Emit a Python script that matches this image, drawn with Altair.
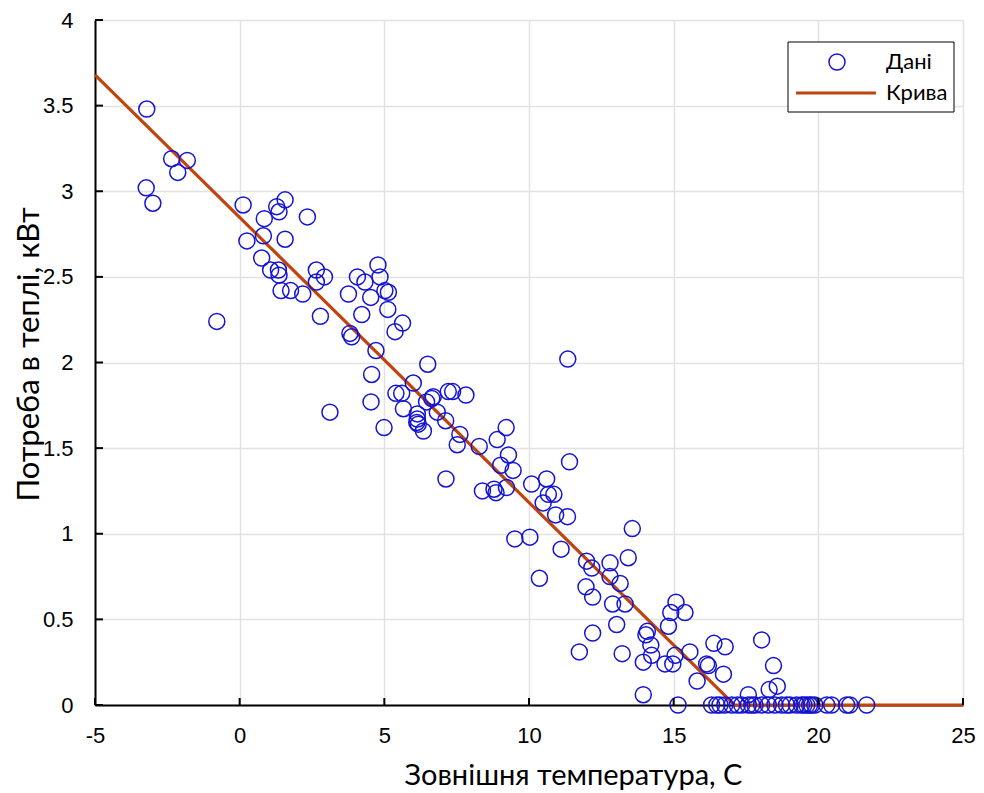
import altair as alt
import pandas as pd

# Measured heat demand vs outdoor temperature
temp = [
    -3.21, -2.35, -1.81, -2.14, -3.23, -3.00, -0.79, 0.12, 1.28, 1.57,
    1.36, 0.85, 2.34, 0.25, 0.82, 1.57, 0.76, 1.07, 1.34, 1.36,
    1.43, 1.76, 2.18, 2.65, 2.65, 2.93, 2.79, 3.12, 3.76, 3.81,
    3.87, 4.07, 4.33, 4.78, 4.85, 4.53, 5.02, 5.14, 5.12, 4.22,
    5.63, 5.37, 4.71, 6.50, 4.56, 4.54, 4.99, 5.40, 5.60, 6.00,
    5.66, 6.14, 6.14, 6.12, 6.17, 6.35, 6.46, 6.64, 6.69, 6.83,
    7.12, 7.21, 7.36, 7.82, 7.61, 7.52, 8.28, 7.13, 9.21, 8.90,
    9.29, 9.02, 9.45, 11.40, 11.34, 8.39, 8.79, 8.86, 9.22, 10.09,
    10.61, 10.67, 10.86, 10.49, 10.92, 11.33, 9.51, 10.03, 11.11, 10.36,
    13.57, 11.99, 12.17, 12.80, 13.43, 12.80, 13.15, 11.97, 12.20, 12.89,
    13.32, 15.08, 14.90, 15.39, 14.82, 13.03, 12.20, 14.09, 14.04, 14.21,
    14.24, 11.74, 13.22, 13.95, 14.70, 14.97, 15.05, 15.56, 16.39, 16.78,
    16.14, 16.20, 16.72, 15.81, 13.95, 18.04, 18.45, 17.58, 18.30, 18.58,
    15.15, 16.31, 16.49, 16.60, 16.77, 17.01, 17.20, 17.35, 17.58, 17.70,
    17.81, 18.04, 18.27, 18.50, 18.73, 18.90, 19.02, 19.25, 19.42, 19.50,
    19.60, 19.70, 19.77, 19.88, 20.29, 20.46, 20.98, 21.09, 21.67,
]
demand = [
    3.48, 3.19, 3.18, 3.11, 3.02, 2.93, 2.24, 2.92, 2.91, 2.95,
    2.88, 2.84, 2.85, 2.71, 2.74, 2.72, 2.61, 2.54, 2.54, 2.51,
    2.42, 2.42, 2.40, 2.54, 2.47, 2.50, 2.27, 1.71, 2.40, 2.17,
    2.15, 2.50, 2.47, 2.57, 2.50, 2.38, 2.42, 2.41, 2.31, 2.28,
    2.23, 2.18, 2.07, 1.99, 1.93, 1.77, 1.62, 1.82, 1.82, 1.88,
    1.73, 1.70, 1.67, 1.65, 1.64, 1.60, 1.77, 1.79, 1.80, 1.71,
    1.66, 1.83, 1.83, 1.81, 1.58, 1.52, 1.51, 1.32, 1.62, 1.55,
    1.46, 1.40, 1.37, 1.42, 2.02, 1.25, 1.26, 1.24, 1.27, 1.29,
    1.32, 1.23, 1.23, 1.18, 1.11, 1.10, 0.97, 0.98, 0.91, 0.74,
    1.03, 0.84, 0.80, 0.83, 0.86, 0.75, 0.71, 0.69, 0.63, 0.59,
    0.59, 0.60, 0.54, 0.54, 0.46, 0.47, 0.42, 0.43, 0.41, 0.35,
    0.29, 0.31, 0.30, 0.25, 0.24, 0.24, 0.29, 0.31, 0.36, 0.34,
    0.24, 0.23, 0.18, 0.14, 0.06, 0.38, 0.23, 0.06, 0.09, 0.11,
    0.0, 0.0, 0.0, 0.0, 0.0, 0.0, 0.0, 0.0, 0.0, 0.0,
    0.0, 0.0, 0.0, 0.0, 0.0, 0.0, 0.0, 0.0, 0.0, 0.0,
    0.0, 0.0, 0.0, 0.0, 0.0, 0.0, 0.0, 0.0, 0.0,
]

# Fitted piecewise-linear curve
curve_t = [-5.0, 17.1, 25.0]
curve_q = [3.68, 0.0, 0.0]

x_ticks = [-5, 0, 5, 10, 15, 20, 25]
y_ticks = [0, 0.5, 1, 1.5, 2, 2.5, 3, 3.5, 4]

legend_labels = ["Дані", "Крива"]

BLUE = "#1414d2"
RED = "#c1440e"
TICK_FONT = "Liberation Sans"
TEXT_FONT = "Lato"

W, H = 868, 685

points_df = pd.DataFrame({"t": temp, "q": demand})
curve_df = pd.DataFrame({"t": curve_t, "q": curve_q})

xscale = alt.Scale(domain=[-5, 25], nice=False, zero=False)
yscale = alt.Scale(domain=[0, 4], nice=False)

common = dict(
    ticks=False, labelFlush=False, labelOverlap=False,
    labelExpr="'' + datum.value",
    labelFont=TICK_FONT, labelFontSize=22, labelColor="black",
    titleFont=TEXT_FONT, titleFontWeight="normal", titleColor="black",
    titleAlign="center", titleBaseline="middle",
    domainColor="black", domainWidth=2,
    gridColor="#e2e2e2", gridWidth=1.5,
)
x_axis = alt.Axis(
    values=x_ticks, title="Зовнішня температура, С", labelPadding=20,
    titleFontSize=29, titleX=478, titleY=70, **common,
)
y_axis = alt.Axis(
    values=y_ticks, title="Потреба в теплі, кВт", labelPadding=22,
    titleFontSize=31, titleX=-66, titleY=334, **common,
)

points = alt.Chart(points_df).mark_point(
    shape="circle", filled=False, size=256, strokeWidth=1.5, color=BLUE, opacity=1
).encode(
    x=alt.X("t:Q", scale=xscale, axis=x_axis),
    y=alt.Y("q:Q", scale=yscale, axis=y_axis),
)

curve = alt.Chart(curve_df).mark_line(color=RED, strokeWidth=3.2).encode(
    x=alt.X("t:Q", scale=xscale),
    y=alt.Y("q:Q", scale=yscale),
)

# Inward tick marks on both axes
yt = alt.Chart(pd.DataFrame({"v": y_ticks})).mark_rule(color="black", strokeWidth=2).encode(
    y=alt.Y("v:Q", scale=yscale), x=alt.value(0), x2=alt.value(8)
)
xt = alt.Chart(pd.DataFrame({"v": x_ticks})).mark_rule(color="black", strokeWidth=2).encode(
    x=alt.X("v:Q", scale=xscale), y=alt.value(H), y2=alt.value(H - 7)
)

# Legend box
one = pd.DataFrame({"a": [0]})
box = alt.Chart(one).mark_rect(fill="white", stroke="black", strokeWidth=1).encode(
    x=alt.value(693), x2=alt.value(859), y=alt.value(22), y2=alt.value(92)
)
leg_pt = alt.Chart(one).mark_point(
    shape="circle", filled=False, size=256, strokeWidth=1.5, color=BLUE, opacity=1
).encode(x=alt.value(742), y=alt.value(42))
leg_ln = alt.Chart(one).mark_rule(color=RED, strokeWidth=3.2).encode(
    x=alt.value(701), x2=alt.value(781), y=alt.value(73)
)
leg_txt = alt.Chart(pd.DataFrame({"lab": legend_labels, "yy": [42, 73]})).mark_text(
    font=TEXT_FONT, fontSize=22, color="black", align="left", baseline="middle"
).encode(x=alt.value(791), y=alt.Y("yy:Q", scale=None), text="lab:N")

chart = alt.layer(curve, points, yt, xt, box, leg_pt, leg_ln, leg_txt).properties(
    width=W, height=H,
    autosize=alt.AutoSizeParams(type="none"),
    padding={"left": 95, "top": 20, "right": 21, "bottom": 88},
).configure_view(stroke=None).configure(background="white")

chart.save("out.html", embed_options={"renderer": "svg", "actions": False})
